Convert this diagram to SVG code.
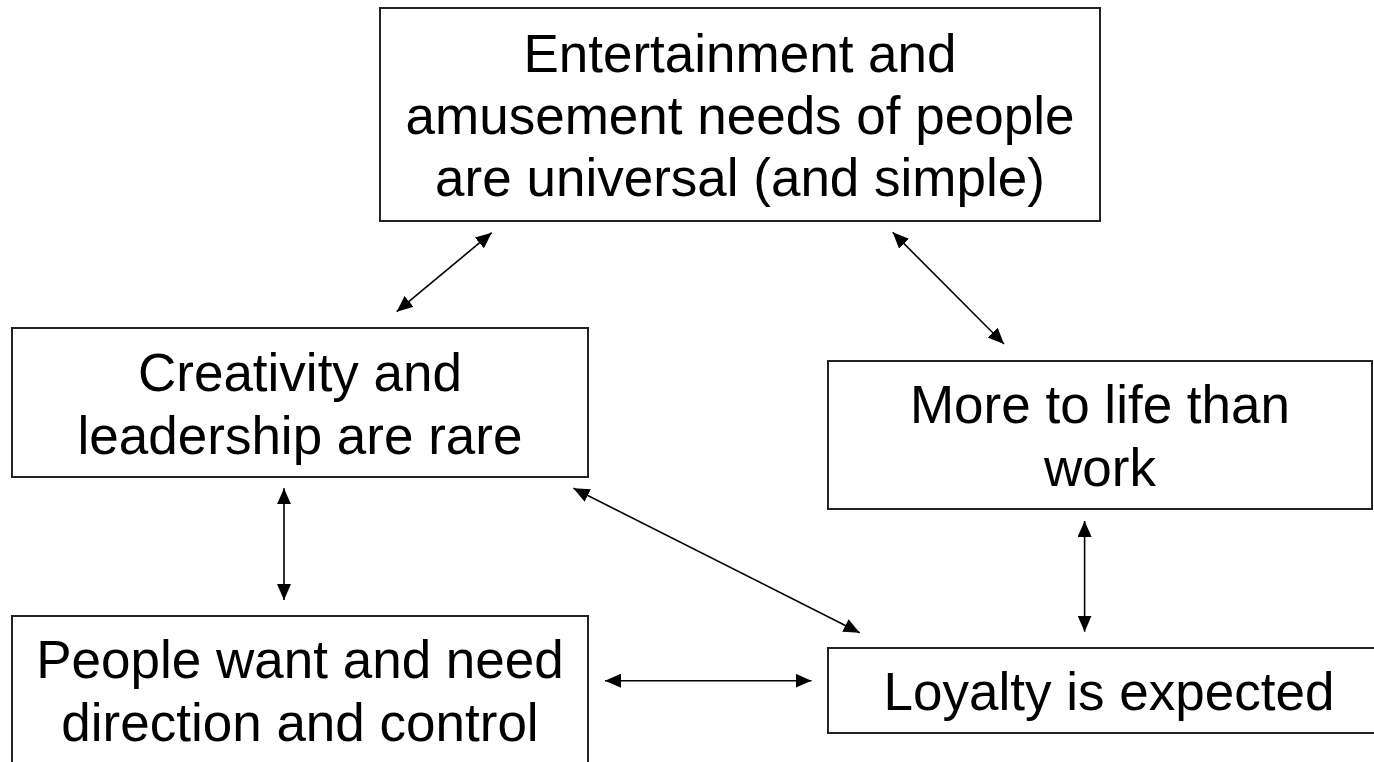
<svg xmlns="http://www.w3.org/2000/svg" width="1374" height="762" viewBox="0 0 1374 762">
<style>
.box{fill:#fff;stroke:#222;stroke-width:2}
.lbl{font-family:"Liberation Sans",Arial,sans-serif;font-size:53px;fill:#000;text-anchor:middle}
.con{stroke:#000;stroke-width:1.6;fill:none;marker-start:url(#ah);marker-end:url(#ah)}
</style>
<defs>
<marker id="ah" markerUnits="userSpaceOnUse" markerWidth="16" markerHeight="14" refX="16" refY="7" orient="auto-start-reverse" viewBox="0 0 16 14">
<path d="M0,0 L16,7 L0,14 z" fill="#000"/>
</marker>
</defs>
<rect width="1374" height="762" fill="#fff"/>
<g id="node-entertainment">
<rect class="box" x="380" y="8" width="720" height="213"/>
<text class="lbl" x="740" y="72">Entertainment and</text>
<text class="lbl" x="740" y="134">amusement needs of people</text>
<text class="lbl" x="740" y="196">are universal (and simple)</text>
</g>
<g id="node-creativity">
<rect class="box" x="12" y="328" width="576" height="149"/>
<text class="lbl" x="300" y="391">Creativity and</text>
<text class="lbl" x="300" y="454">leadership are rare</text>
</g>
<g id="node-morelife">
<rect class="box" x="828" y="361" width="544" height="148"/>
<text class="lbl" x="1100" y="423">More to life than</text>
<text class="lbl" x="1100" y="486">work</text>
</g>
<g id="node-people">
<rect class="box" x="12" y="616" width="576" height="170"/>
<text class="lbl" x="300" y="678">People want and need</text>
<text class="lbl" x="300" y="741">direction and control</text>
</g>
<g id="node-loyalty">
<rect class="box" x="828" y="648" width="562" height="85"/>
<text class="lbl" x="1109" y="710">Loyalty is expected</text>
</g>
<g id="connectors">
<line class="con" x1="491.7" y1="232.7" x2="396.7" y2="311.7"/>
<line class="con" x1="892.7" y1="232.3" x2="1004" y2="344"/>
<line class="con" x1="284" y1="488.3" x2="284" y2="600"/>
<line class="con" x1="573.5" y1="488.3" x2="859.7" y2="632.7"/>
<line class="con" x1="605" y1="680.7" x2="811.5" y2="680.7"/>
<line class="con" x1="1084.6" y1="521" x2="1084.6" y2="631.7"/>
</g>
</svg>
